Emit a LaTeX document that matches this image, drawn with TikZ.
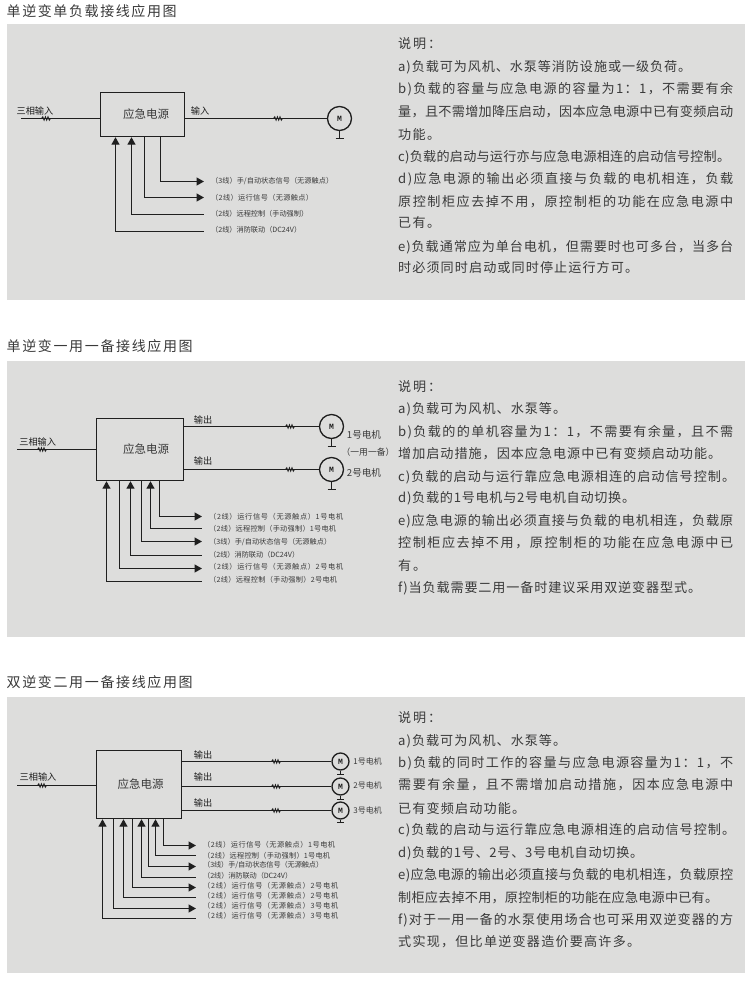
\documentclass[tikz,border=0pt]{standalone}
\usepackage{fontspec}
\setmainfont{Noto Sans CJK SC}
\newfontfamily\motorfont{Liberation Mono}
\usetikzlibrary{arrows.meta,calc}
\definecolor{panel}{HTML}{DDDDDC}
\definecolor{ink}{HTML}{1F1F1F}
\definecolor{bodyink}{HTML}{3A3A3A}
\tikzset{
  wire/.style={draw=ink,line width=1.4pt},
  sig/.style={draw=ink,line width=1.3pt},
  tri/.tip={Triangle[length=7.5pt,width=8pt]},
  upsbox/.style={draw=ink,line width=1.4pt,inner sep=0pt,font=\fontsize{11.5pt}{12pt}\selectfont,text=bodyink},
  motor/.style={circle,draw=ink,line width=1.3pt,inner sep=0pt,font=\motorfont\bfseries\fontsize{8pt}{9pt}\selectfont,text=ink},
  para/.style={anchor=west,inner sep=0pt,text=bodyink,font=\fontsize{13.1pt}{15pt}\selectfont},
  titl/.style={anchor=west,inner sep=0pt,text=bodyink,font=\fontsize{14pt}{15pt}\selectfont},
  sigl/.style={anchor=west,inner ysep=0pt,inner xsep=7pt,text=bodyink,font=\fontsize{7.2pt}{8pt}\selectfont},
  wlab/.style={inner sep=0pt,text=ink,font=\fontsize{9.2pt}{10pt}\selectfont},
  mlab/.style={inner sep=0pt,text=bodyink,font=\fontsize{9.6pt}{10pt}\selectfont},
  mlabs/.style={inner sep=0pt,text=bodyink,font=\fontsize{8pt}{10pt}\selectfont},
}
\def\spr#1{#1\sprn}
\def\sprn#1{\ifx#1\relax\else\hskip 0pt plus 1pt minus .6pt #1\expandafter\sprn\fi}
\newcounter{tln}
\newcommand{\ttxt}[5][para]{\stepcounter{tln}\node[#1] (t\thetln) at (#2,#3) {\hbox to #4pt{\spr #5\relax}};}
\newcommand{\lbl}[5]{\node[sigl] (#1) at (#2-10,#3) {\hbox to \dimexpr#4pt+3pt\relax{\spr #5\relax}};}
\newcommand{\ctlIn}[4]{\coordinate (tmpc) at (#2,#3); \draw[sig,{tri}-] (#1.south -| tmpc) -- (tmpc) -- (#4.west |- tmpc);}
\newcommand{\ctlOut}[4]{\coordinate (tmpc) at (#2,#3); \draw[sig,-{tri}] (#1.south -| tmpc) -- (tmpc) -- (#4.west |- tmpc);}
\newcommand{\squig}[2]{\draw[ink,line width=.8pt] (#1-4.5,#2) -- ++(1.3,-1.8) -- ++(1.3,3.6) -- ++(1.3,-3.6) -- ++(1.3,3.6) -- ++(1.3,-3.6) -- ++(1.3,3.6) -- ++(1.2,-1.8);}
\newcommand{\gnd}[5]{\coordinate (#2) at (#3,#4); \draw[wire] (#1.south) -- (#2); \draw[wire] ([xshift=-#5pt]#2) -- ([xshift=#5pt]#2);}
\begin{document}
\begin{tikzpicture}[x=1pt,y=-1pt]
\useasboundingbox (0,0) rectangle (755,983);
\fill[white] (0,0) rectangle (755,983);
\fill[panel] (7,24) rectangle (745,300);
\fill[panel] (7,361) rectangle (745,637);
\fill[panel] (7,697) rectangle (745,973);

\ttxt[titl]{6.5}{11.5}{170}{单逆变单负载接线应用图}
\ttxt[titl]{6.5}{346.5}{186}{单逆变一用一备接线应用图}
\ttxt[titl]{6.5}{682.5}{186}{双逆变二用一备接线应用图}

% ---------- Diagram 1
\node[upsbox,minimum width=84pt,minimum height=44pt] (b1) at (142.5,114.5) {\hspace{7pt}应急电源};
\node[wlab] (l1a) at (35,110.5) {三相输入};
\node[wlab] (l1b) at (200,111) {输入};
\coordinate (i1) at (21,118.5);
\draw[wire] (i1) -- (b1.west |- i1);
\squig{46}{118.5}
\node[motor,minimum size=24pt] (m1) at (339.5,118.5) {M};
\draw[wire] (b1.east |- m1.west) -- (m1.west);
\squig{278}{118.5}
\gnd{m1}{g1}{339.5}{138.5}{4}
\lbl{s11}{214}{181.5}{119}{（3线）手/自动状态信号（无源触点）}
\lbl{s12}{214}{198}{99}{（2线）运行信号（无源触点）}
\lbl{s13}{214}{214}{94}{（2线）远程控制（手动强制）}
\lbl{s14}{214}{229.5}{87}{（2线）消防联动（DC24V）}
\ctlOut{b1}{160.5}{181.5}{s11}
\ctlOut{b1}{144.5}{197.5}{s12}
\ctlIn{b1}{131.5}{214.5}{s13}
\ctlIn{b1}{115.5}{231.5}{s14}

\ttxt{398}{44}{43}{说明：}
\ttxt{398}{67}{293}{a)负载可为风机、水泵等消防设施或一级负荷。}
\ttxt{398}{89}{335}{b)负载的容量与应急电源的容量为1：1，不需要有余}
\ttxt{398}{112}{335}{量，且不需增加降压启动，因本应急电源中已有变频启动}
\ttxt{398}{135}{42}{功能。}
\ttxt{398}{157}{332}{c)负载的启动与运行亦与应急电源相连的启动信号控制。}
\ttxt{398}{179}{335}{d)应急电源的输出必须直接与负载的电机相连，负载}
\ttxt{398}{202}{335}{原控制柜应去掉不用，原控制柜的功能在应急电源中}
\ttxt{398}{223}{42}{已有。}
\ttxt{398}{247}{335}{e)负载通常应为单台电机，但需要时也可多台，当多台}
\ttxt{398}{268}{240}{时必须同时启动或同时停止运行方可。}

% ---------- Diagram 2
\node[upsbox,minimum width=87pt,minimum height=62pt] (b2) at (140,449.5) {\hspace{12pt}应急电源};
\node[wlab] (l2a) at (37.7,441.7) {三相输入};
\node[wlab] (l2b) at (203,420) {输出};
\node[wlab] (l2c) at (203,460.7) {输出};
\coordinate (i2) at (17,449.5);
\draw[wire] (i2) -- (b2.west |- i2);
\squig{42}{449.5}
\node[motor,minimum size=24pt] (m21) at (331.5,426.5) {M};
\node[motor,minimum size=24pt] (m22) at (331.5,469.5) {M};
\draw[wire] (b2.east |- m21.west) -- (m21.west);
\draw[wire] (b2.east |- m22.west) -- (m22.west);
\squig{290}{426.5}
\squig{290}{469.5}
\gnd{m21}{g21}{331.5}{446.5}{4}
\gnd{m22}{g22}{331.5}{489.5}{4}
\node[mlab] (n21) at (364,434.7) {1号电机};
\node[mlab,font=\fontsize{8.8pt}{10pt}\selectfont] (n2x) at (368,452) {（一用一备）};
\node[mlab] (n22) at (364,472.7) {2号电机};
\lbl{s21}{212}{516.7}{131}{（2线）运行信号（无源触点）1号电机}
\lbl{s22}{212}{529}{124}{（2线）远程控制（手动强制）1号电机}
\lbl{s23}{212}{541.7}{119}{（3线）手/自动状态信号（无源触点）}
\lbl{s24}{212}{554.3}{87}{（2线）消防联动（DC24V）}
\lbl{s25}{212}{567}{131}{（2线）运行信号（无源触点）2号电机}
\lbl{s26}{212}{579.3}{125}{（2线）远程控制（手动强制）2号电机}
\ctlOut{b2}{159.5}{516.5}{s21}
\ctlIn{b2}{150.5}{528.5}{s22}
\ctlOut{b2}{141.5}{541.5}{s23}
\ctlIn{b2}{130.5}{555.5}{s24}
\ctlOut{b2}{119.5}{568.5}{s25}
\ctlIn{b2}{106.5}{581.5}{s26}

\ttxt{398}{387}{43}{说明：}
\ttxt{398}{409}{168}{a)负载可为风机、水泵等。}
\ttxt{398}{432}{335}{b)负载的的单机容量为1：1，不需要有余量，且不需}
\ttxt{398}{454}{323}{增加启动措施，因本应急电源中已有变频启动功能。}
\ttxt{398}{477}{337}{c)负载的启动与运行靠应急电源相连的启动信号控制。}
\ttxt{398}{498}{237}{d)负载的1号电机与2号电机自动切换。}
\ttxt{398}{521}{335}{e)应急电源的输出必须直接与负载的电机相连，负载原}
\ttxt{398}{543}{335}{控制柜应去掉不用，原控制柜的功能在应急电源中已}
\ttxt{398}{566}{28}{有。}
\ttxt{398}{588}{303}{f)当负载需要二用一备时建议采用双逆变器型式。}

% ---------- Diagram 3
\node[upsbox,minimum width=85pt,minimum height=68pt] (b3) at (139,784.5) {\hspace{3pt}应急电源};
\node[wlab] (l3a) at (38,776.7) {三相输入};
\node[wlab] (l3b) at (203,754.7) {输出};
\node[wlab] (l3c) at (203,777.3) {输出};
\node[wlab] (l3d) at (203,802.7) {输出};
\coordinate (i3) at (17,785.5);
\draw[wire] (i3) -- (b3.west |- i3);
\squig{42}{785.5}
\node[motor,minimum size=17pt] (m31) at (340.5,761.5) {M};
\node[motor,minimum size=17pt] (m32) at (340.5,786.5) {M};
\node[motor,minimum size=17pt] (m33) at (340.5,810.5) {M};
\draw[wire] (b3.east |- m31.west) -- (m31.west);
\draw[wire] (b3.east |- m32.west) -- (m32.west);
\draw[wire] (b3.east |- m33.west) -- (m33.west);
\squig{276}{761.5}
\squig{276}{786.5}
\squig{276}{810.5}
\gnd{m31}{g31}{340.5}{774.5}{3.5}
\gnd{m32}{g32}{340.5}{799.5}{3.5}
\gnd{m33}{g33}{340.5}{822.5}{3.5}
\node[mlabs] (n31) at (367.7,761.7) {1号电机};
\node[mlabs] (n32) at (367.7,785) {2号电机};
\node[mlabs] (n33) at (367.7,810) {3号电机};
\lbl{s31}{206}{845}{129}{（2线）运行信号（无源触点）1号电机}
\lbl{s32}{206}{855.3}{124}{（2线）远程控制（手动强制）1号电机}
\lbl{s33}{206}{865.3}{117}{（3线）手/自动状态信号（无源触点）}
\lbl{s34}{206}{875.7}{86}{（2线）消防联动（DC24V）}
\lbl{s35}{206}{885.7}{132}{（2线）运行信号（无源触点）2号电机}
\lbl{s36}{206}{895.7}{132}{（2线）运行信号（无源触点）2号电机}
\lbl{s37}{206}{905.7}{132}{（2线）运行信号（无源触点）3号电机}
\lbl{s38}{206}{915.7}{132}{（2线）运行信号（无源触点）3号电机}
\ctlOut{b3}{163.5}{845.5}{s31}
\ctlIn{b3}{155.5}{855.5}{s32}
\ctlOut{b3}{148.5}{866.5}{s33}
\ctlIn{b3}{141.5}{877.5}{s34}
\ctlOut{b3}{132.5}{887.5}{s35}
\ctlIn{b3}{123.5}{897.5}{s36}
\ctlOut{b3}{113.5}{908.5}{s37}
\ctlIn{b3}{102.5}{918.5}{s38}

\ttxt{398}{718}{43}{说明：}
\ttxt{398}{741}{168}{a)负载可为风机、水泵等。}
\ttxt{398}{763}{335}{b)负载的同时工作的容量与应急电源容量为1：1，不}
\ttxt{398}{785}{335}{需要有余量，且不需增加启动措施，因本应急电源中}
\ttxt{398}{808}{127}{已有变频启动功能。}
\ttxt{398}{830}{337}{c)负载的启动与运行靠应急电源相连的启动信号控制。}
\ttxt{398}{853}{245}{d)负载的1号、2号、3号电机自动切换。}
\ttxt{398}{875}{335}{e)应急电源的输出必须直接与负载的电机相连，负载原控}
\ttxt{398}{898}{320}{制柜应去掉不用，原控制柜的功能在应急电源中已有。}
\ttxt{398}{920}{335}{f)对于一用一备的水泵使用场合也可采用双逆变器的方}
\ttxt{398}{942}{242}{式实现，但比单逆变器造价要高许多。}
\end{tikzpicture}
\end{document}
